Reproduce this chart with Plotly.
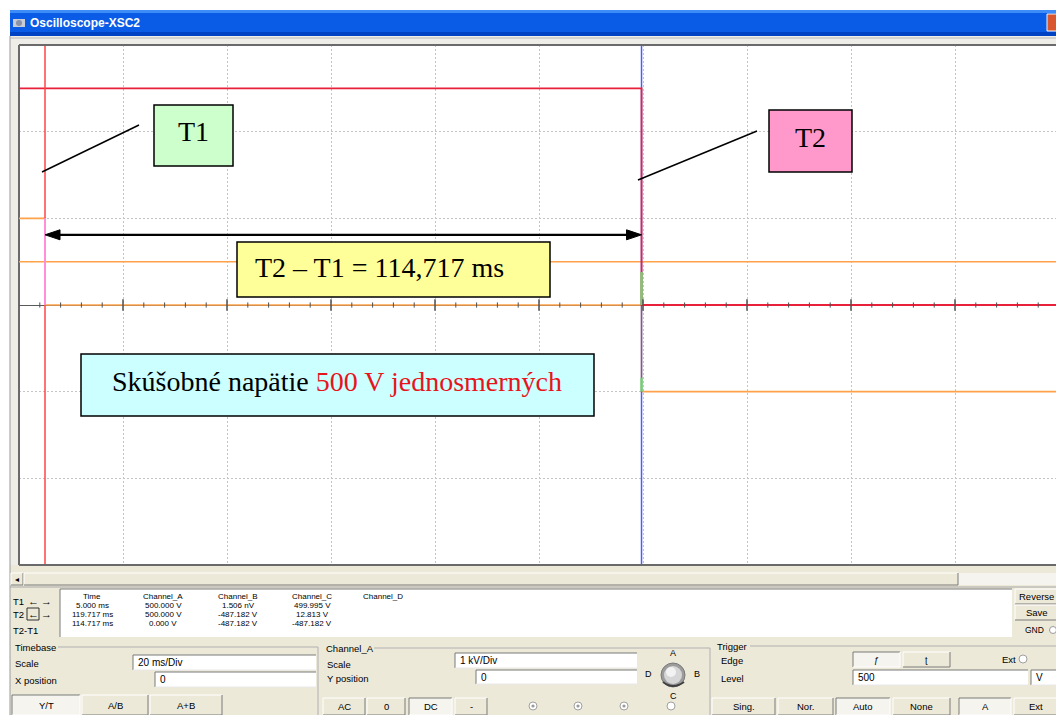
import plotly.graph_objects as go

W, H = 1056, 715

# cursor positions (ms)
t1_ms = 5.000
t2_ms = 119.717

# screen traces: time in ms, level in vertical divisions from the centre line
ch_a_time = [0, 119.717, 119.717, 200]
ch_a_div = [2.5, 2.5, 0.0, 0.0]
ch_b_time = [119.717, 119.717, None, 119.717, 119.717]
ch_b_div = [0.38, 0.0, None, -0.84, -1.0]
ch_c_time = [0, 5.0, 5.0, 119.717, 119.717, 200]
ch_c_div = [1.0, 1.0, 0.0, 0.0, -1.0, -1.0]
ch_d_time = [5.0, 5.0]
ch_d_div = [1.0, 0.0]
ref_time = [0, 200]
ref_div = [0.5, 0.5]

# readout panel
readout_heads = ["Time", "Channel_A", "Channel_B", "Channel_C", "Channel_D"]
readout_rows = ["T1", "T2", "T2-T1"]
ch_a_read = ["500.000 V", "500.000 V", "0.000 V"]
ch_b_read = ["1.506 nV", "-487.182 V", "-487.182 V"]
ch_c_read = ["499.995 V", "12.813 V", "-487.182 V"]

timebase_scale = "20 ms/Div"
channel_scale = "1 kV/Div"
trigger_level = "500"

# screen geometry (pixels)
MS_PER_DIV = 20
PX_PER_DIV_X = 104
X0_PX, Y_TOP, Y_BOT = 19, 45, 565
N_DIV_Y = 3

UI = "Liberation Sans"
SERIF = "Liberation Serif"

shapes = []
annotations = []


def px(x):
    return x / W


def py(y):
    return 1 - y / H


def rect(x0, y0, x1, y1, fill, line=None, lw=1, layer="above"):
    shapes.append(dict(type="rect", xref="paper", yref="paper",
                       x0=px(x0), x1=px(x1), y0=py(y1), y1=py(y0),
                       fillcolor=fill, layer=layer,
                       line=dict(color=line if line else fill, width=lw if line else 0)))


def seg(x0, y0, x1, y1, color, w=1, layer="above"):
    shapes.append(dict(type="line", xref="paper", yref="paper",
                       x0=px(x0), x1=px(x1), y0=py(y0), y1=py(y1),
                       line=dict(color=color, width=w), layer=layer))


def circle(cx, cy, r, fill, line=None, lw=1):
    shapes.append(dict(type="circle", xref="paper", yref="paper",
                       x0=px(cx - r), x1=px(cx + r), y0=py(cy + r), y1=py(cy - r),
                       fillcolor=fill, line=dict(color=line if line else fill, width=lw if line else 0)))


def text(x, y, s, size=10, color="black", family=UI, anchor="left"):
    annotations.append(dict(xref="paper", yref="paper", x=px(x), y=py(y), text=s,
                            showarrow=False, xanchor=anchor, yanchor="middle",
                            borderpad=0, font=dict(size=size, color=color, family=family)))


def button(x0, y0, x1, y1, label, pressed=False, size=10):
    rect(x0, y0, x1, y1, "#F5F4EF" if pressed else "#ECE9D8")
    light, dark = ("#7A7A7A", "#FFFFFF") if pressed else ("#FFFFFF", "#7A7A7A")
    seg(x0, y0, x1, y0, light)
    seg(x0, y0, x0, y1, light)
    seg(x0, y1, x1, y1, dark)
    seg(x1, y0, x1, y1, dark)
    if label:
        text((x0 + x1) / 2, (y0 + y1) / 2, label, size=size, anchor="center")


def textbox(x0, y0, x1, y1, value):
    rect(x0, y0, x1, y1, "#FFFFFF")
    seg(x0, y0, x1, y0, "#7A7A7A")
    seg(x0, y0, x0, y1, "#7A7A7A")
    seg(x0, y1, x1, y1, "#E8E8E8")
    text(x0 + 4, (y0 + y1) / 2, value, size=10)


# ---------- window chrome ----------
rect(10, 36, 1056, Y_TOP, "#EEEDE8", layer="below")
rect(10, 36, X0_PX, Y_BOT, "#EEEDE8", layer="below")
rect(10, Y_BOT, 1056, 715, "#ECE9D8", layer="below")
seg(10, 36, 10, 715, "#9A9A9A")
seg(10, 38, 1056, 38, "#B8B8B8")

rect(10, 10, 1056, 36, "#0A5BE6")
rect(10, 10, 1056, 13, "#3D8CF7")
rect(10, 32, 1056, 36, "#0042C4")
rect(13, 19, 25, 27, "#C9CDD6")
circle(19, 23, 3, "#8A93A8")
text(29, 23, "<b>Oscilloscope-XSC2</b>", size=12, color="white")
rect(1047, 14, 1058, 31, "#D9572F", line="#F3F3F3")

# plot frame
seg(X0_PX, Y_TOP, 1056, Y_TOP, "#6A6A6A", 2)
seg(X0_PX, Y_BOT, 1056, Y_BOT, "#6A6A6A", 2)

# ---------- scrollbar ----------
rect(11, 573, 1056, 585, "#F5F4EF")
button(11, 573, 23, 585, "")
text(17, 579, "◂", size=8, anchor="center")
button(24, 573, 958, 585, "")
seg(10, 587, 1056, 587, "#A8A8A8")

# ---------- readout ----------
rect(60, 589, 1012, 637, "#FFFFFF")
seg(60, 589, 1012, 589, "#7A7A7A")
seg(60, 589, 60, 637, "#7A7A7A")

RO_SIZE = 8
head_x = [92, 163, 238, 312, 383]
for hx, h in zip(head_x, readout_heads):
    text(hx, 596.5, h, size=RO_SIZE, anchor="center")

time_read = [f"{t1_ms:.3f} ms", f"{t2_ms:.3f} ms", f"{t2_ms - t1_ms:.3f} ms"]
row_y = [605.5, 614.5, 623.5]
for i, ry in enumerate(row_y):
    text(92, ry, time_read[i], size=RO_SIZE, anchor="center")
    text(163, ry, ch_a_read[i], size=RO_SIZE, anchor="center")
    text(238, ry, ch_b_read[i], size=RO_SIZE, anchor="center")
    text(312, ry, ch_c_read[i], size=RO_SIZE, anchor="center")

for label, ly in zip(readout_rows, [601, 614, 630]):
    text(12, ly, label, size=9.5)
for ay, boxed in [(601, False), (614, True)]:
    for ax, glyph in [(33, "<b>←</b>"), (46, "<b>→</b>")]:
        if boxed and ax == 33:
            rect(27, ay - 6, 39, ay + 6, "#ECE9D8", line="#303030")
        text(ax, ay, glyph, size=11, anchor="center")

button(1015, 589, 1058, 604, "Reverse", size=9.5)
button(1015, 605, 1058, 620, "Save", size=9.5)
text(1024, 630, "GND", size=8.5)
circle(1053, 630, 3.5, "#FFFFFF", line="#9A9A9A")

# ---------- Timebase group ----------
text(14, 647, "Timebase", size=9.5)
seg(58, 647, 318, 647, "#B0B0B0")
seg(318, 647, 318, 715, "#B0B0B0")
text(14, 663, "Scale", size=9.5)
text(14, 680, "X position", size=9.5)
textbox(133, 655, 316, 670, timebase_scale)
textbox(155, 672, 316, 687, "0")
button(12, 695, 80, 715, "Y/T", pressed=True, size=9.5)
button(82, 695, 148, 715, "A/B", size=9.5)
button(150, 695, 222, 715, "A+B", size=9.5)

# ---------- Channel_A group ----------
text(325, 648, "Channel_A", size=9.5)
seg(374, 648, 710, 648, "#B0B0B0")
seg(710, 648, 710, 715, "#B0B0B0")
text(326, 664, "Scale", size=9.5)
text(326, 678, "Y position", size=9.5)
textbox(455, 653, 637, 668, channel_scale)
textbox(476, 670, 637, 684, "0")
circle(673, 675, 12, "#9C9C9C", line="#7A7A7A")
circle(673, 675, 9, "#D6D6D6")
circle(671, 672, 5, "#F2F2F2")
shapes.append(dict(type="path", xref="paper", yref="paper",
                   path=f"M {px(663)},{py(682)} Q {px(673)},{py(690)} {px(684)},{py(682)}",
                   line=dict(color="#404040", width=2)))
text(673, 653, "A", size=9, anchor="center")
text(697, 674, "B", size=9, anchor="center")
text(673, 696, "C", size=9, anchor="center")
text(648, 674, "D", size=9, anchor="center")
button(323, 698, 365, 715, "AC", size=9.5)
button(367, 698, 405, 715, "0", size=9.5)
button(409, 698, 452, 715, "DC", pressed=True, size=9.5)
button(455, 698, 487, 715, "-", size=9.5)
for rx, on in [(533, True), (578, True), (624, True), (671, False)]:
    circle(rx, 706, 4, "#FFFFFF", line="#A0A0A0")
    if on:
        circle(rx, 706, 1.6, "#9A9A9A")

# ---------- Trigger group ----------
text(716, 646, "Trigger", size=9.5)
seg(750, 646, 1056, 646, "#B0B0B0")
text(720, 660, "Edge", size=9.5)
text(720, 678, "Level", size=9.5)
button(853, 652, 900, 667, "ƒ", pressed=True, size=9)
button(903, 652, 950, 667, "ʈ", size=9)
text(1001, 659, "Ext", size=9.5)
circle(1023, 659, 4, "#FFFFFF", line="#A0A0A0")
textbox(853, 670, 1028, 685, trigger_level)
textbox(1031, 670, 1058, 685, "V")
button(712, 698, 775, 715, "Sing.", size=9.5)
button(778, 698, 833, 715, "Nor.", size=9.5)
button(836, 698, 890, 715, "Auto", pressed=True, size=9.5)
button(893, 698, 950, 715, "None", size=9.5)
button(959, 698, 1011, 715, "A", pressed=True, size=9.5)
button(1014, 698, 1058, 715, "Ext", size=9.5)

# ---------- graticule ticks on the centre line ----------
minor, major = [], []
for k in range(1, 50):
    t = 4 * k
    if t % MS_PER_DIV == 0:
        major.append(f"M {t},-0.065 L {t},0.065")
    else:
        minor.append(f"M {t},-0.03 L {t},0.03")
shapes.append(dict(type="path", xref="x", yref="y", path=" ".join(minor),
                   line=dict(color="#505050", width=1), layer="above"))
shapes.append(dict(type="path", xref="x", yref="y", path=" ".join(major),
                   line=dict(color="#505050", width=1.5), layer="above"))

# ---------- measurement annotations ----------
arr_y = 0.81
head_ms = 15 / PX_PER_DIV_X * MS_PER_DIV
head_h = 5 / ((Y_BOT - Y_TOP) / (2 * N_DIV_Y))
shapes.append(dict(type="line", xref="x", yref="y", x0=t1_ms + head_ms * 0.8,
                   x1=t2_ms - head_ms * 0.8, y0=arr_y, y1=arr_y,
                   line=dict(color="black", width=2.2), layer="above"))
for tip, back in [(t1_ms, t1_ms + head_ms), (t2_ms, t2_ms - head_ms)]:
    shapes.append(dict(type="path", xref="x", yref="y",
                       path=f"M {tip},{arr_y} L {back},{arr_y + head_h} L {back},{arr_y - head_h} Z",
                       fillcolor="black", line=dict(color="black", width=1), layer="above"))

seg(42, 172, 139, 125, "black", 1.5)
seg(638, 180, 757, 131, "black", 1.5)

rect(154, 105, 233, 166, "#CCFFCC", line="black", lw=1.5)
text(193, 131, "T1", size=28, family=SERIF, anchor="center")
rect(769, 110, 852, 172, "#FF99CC", line="black", lw=1.5)
text(810, 137, "T2", size=28, family=SERIF, anchor="center")

rect(237, 242, 550, 297, "#FFFF99", line="black", lw=1.5)
dt_txt = f"{t2_ms - t1_ms:.3f}".replace(".", ",")
text(379, 268, f"T2 – T1 = {dt_txt} ms", size=28, family=SERIF, anchor="center")

rect(81, 354, 594, 416, "#CCFFFF", line="black", lw=1.5)
text(337, 381, "Skúšobné napätie <span style='color:#E8141B'>500 V jednosmerných</span>",
     size=28, family=SERIF, anchor="center")

# ---------- traces ----------
fig = go.Figure()


def add_line(x, y, color, w=1.5, opacity=1.0):
    fig.add_trace(go.Scatter(x=x, y=y, mode="lines", line=dict(color=color, width=w),
                             opacity=opacity, hoverinfo="skip", showlegend=False,
                             connectgaps=False))


add_line(ref_time, ref_div, "#FFA24A")
add_line(ch_c_time, ch_c_div, "#FFA24A", 1.6)
add_line([t2_ms, t2_ms], [-N_DIV_Y, N_DIV_Y], "#4A5CFF", 1.5)
add_line(ch_a_time, ch_a_div, "#E8203A", 1.8)
add_line(ch_b_time, ch_b_div, "#4EE64E", 2)
add_line([t1_ms, t1_ms], [-N_DIV_Y, N_DIV_Y], "#FF4545", 1.5)
add_line(ch_d_time, ch_d_div, "#FF9CFF", 1.6)

fig.add_trace(go.Scatter(x=[t1_ms], y=[N_DIV_Y + 0.045], mode="markers",
                         marker=dict(symbol="triangle-down", size=9, color="#FF2020"),
                         cliponaxis=False, hoverinfo="skip", showlegend=False))
fig.add_trace(go.Scatter(x=[t2_ms], y=[N_DIV_Y + 0.045], mode="markers",
                         marker=dict(symbol="triangle-down", size=9, color="#3040FF"),
                         cliponaxis=False, hoverinfo="skip", showlegend=False))

x_max = (W - X0_PX) / PX_PER_DIV_X * MS_PER_DIV
fig.update_layout(
    width=W, height=H,
    margin=dict(l=0, r=0, t=0, b=0),
    paper_bgcolor="white",
    plot_bgcolor="white",
    shapes=shapes,
    annotations=annotations,
    xaxis=dict(domain=[X0_PX / W, 1], range=[0, x_max], dtick=MS_PER_DIV, tick0=0,
               showgrid=True, gridcolor="#C4C4C4", griddash="2px,2px", gridwidth=1,
               zeroline=True, zerolinecolor="#6A6A6A", zerolinewidth=2,
               showticklabels=False, ticks="", fixedrange=True),
    yaxis=dict(domain=[1 - Y_BOT / H, 1 - Y_TOP / H], range=[-N_DIV_Y, N_DIV_Y],
               dtick=1, tick0=0,
               showgrid=True, gridcolor="#C4C4C4", griddash="2px,2px", gridwidth=1,
               zeroline=True, zerolinecolor="#5A5A5A", zerolinewidth=1,
               showticklabels=False, ticks="", fixedrange=True),
)

fig.write_html("out.html")
